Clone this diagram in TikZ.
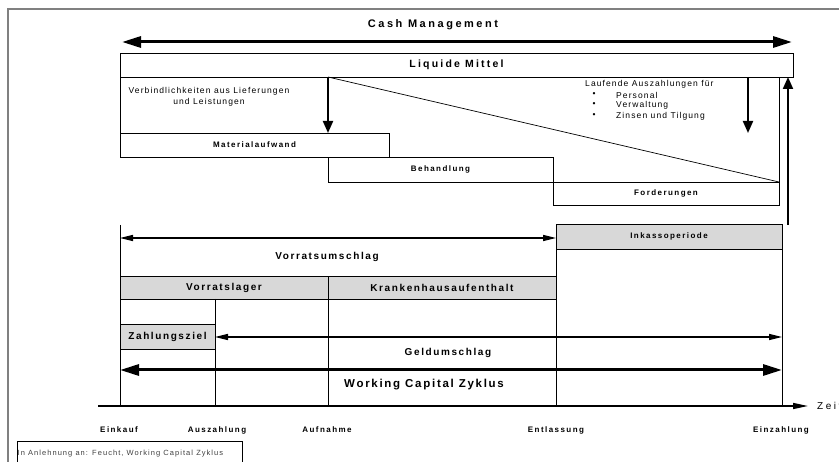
\documentclass[tikz,border=0pt]{standalone}
\usepackage{fontspec}
\setmainfont{Liberation Sans}
\usetikzlibrary{arrows.meta}
\newcommand{\fsz}[3]{\fontsize{#1}{#2}\selectfont\addfontfeature{LetterSpace=#3}}
\definecolor{shadegray}{HTML}{D8D8D8}
\definecolor{framegray}{HTML}{808080}
\begin{document}
\begin{tikzpicture}[x=1pt,y=-1pt,
  box/.style={draw, line width=0.9pt, inner sep=0pt, outer sep=0pt, align=center},
  shadebox/.style={box, fill=shadegray},
  ttl/.style={font=\bfseries\fsz{11}{13}{23}},
  midt/.style={font=\bfseries\fsz{10.5}{12}{21}},
  wct/.style={font=\bfseries\fsz{11.5}{13}{15}},
  boldm/.style={font=\bfseries\fsz{10}{11}{16}},
  bolds/.style={font=\bfseries\fsz{8}{9}{18}},
  regs/.style={font=\fsz{8.5}{10.5}{13}, inner sep=0pt},
  thin/.style={line width=0.9pt},
  bigarrow/.style={line width=3pt, {Triangle[length=19pt,width=11pt]}-{Triangle[length=19pt,width=11pt]}},
  medarrow/.style={line width=1.3pt, {Triangle[length=13pt,width=6pt]}-{Triangle[length=13pt,width=6pt]}},
  varrow/.style={line width=2pt, -{Triangle[length=12pt,width=10pt]}},
  axisarrow/.style={line width=1.5pt, -{Triangle[length=15pt,width=6pt]}}
]
\useasboundingbox (0,0) rectangle (839,462);
% outer frame
\draw[framegray, line width=1.5pt] (8,480) -- (8,9) -- (850,9);

% coordinates
\coordinate (cmL) at (122,42);
\coordinate (cmR) at (792,42);
\coordinate (tA) at (328,77);
\coordinate (tB) at (779,77);
\coordinate (tL) at (120,77);
\coordinate (dg) at (779,182);
\coordinate (d2a) at (748,77);
\coordinate (d2b) at (748,133);
\coordinate (upA) at (788,225);
\coordinate (upB) at (788,77);
\coordinate (vuL) at (120,238);
\coordinate (vuR) at (556,238);
\coordinate (guL) at (215,337);
\coordinate (guR) at (782,337);
\coordinate (wcL) at (120,370);
\coordinate (wcR) at (782,370);
\coordinate (axL) at (98,406);
\coordinate (axR) at (808,406);
\coordinate (l120t) at (120,225);
\coordinate (a120) at (120,406);
\coordinate (a215) at (215,406);
\coordinate (a328) at (328,406);
\coordinate (a556) at (556,406);
\coordinate (a782) at (782,406);

% title
\node[ttl] (cash) at (433,25) {Cash Management};
\draw[bigarrow] (cmL) -- (cmR);

% top boxes
\node[box, minimum width=673pt, minimum height=24pt, midt] (liq) at (456.5,65) {Liquide Mittel};
\node[box, minimum width=269pt, minimum height=24pt, bolds] (mat) at (254.5,145) {Materialaufwand};
\node[box, minimum width=225pt, minimum height=25pt, bolds] (beh) at (440.5,169.5) {Behandlung};
\node[box, minimum width=226pt, minimum height=23pt, bolds] (ford) at (666,193.5) {Forderungen};

\draw[thin] (tL) -- (mat.north west);
\draw[thin] (tB) -- (ford.north east);
\draw[line width=0.7pt] (tA) -- (dg);
\draw[varrow] (tA) -- (mat.north -| tA);
\draw[varrow] (d2a) -- (d2b);
\draw[varrow] (upA) -- (upB);

% texts in the top area
\node[regs, align=center] (verb) at (209,97) {Verbindlichkeiten aus Lieferungen\\und Leistungen};
\node[regs, anchor=west] (lauf) at (585,84) {Laufende Auszahlungen für};
\node[regs] (b1) at (594,95) {•};
\node[regs] (b2) at (594,105) {•};
\node[regs] (b3) at (594,116) {•};
\node[regs, anchor=west] (p1) at (616,95) {Personal};
\node[regs, anchor=west] (p2) at (616,105) {Verwaltung};
\node[regs, anchor=west] (p3) at (616,116) {Zinsen und Tilgung};

% lower part
\node[shadebox, minimum width=226pt, minimum height=25pt, bolds] (ink) at (669,236.5) {Inkassoperiode};
\node[shadebox, minimum width=208pt, minimum height=23pt, boldm] (vl) at (224,287.5) {Vorratslager};
\node[shadebox, minimum width=228pt, minimum height=23pt, boldm] (kh) at (442,287.5) {Krankenhausaufenthalt};
\node[shadebox, minimum width=95pt, minimum height=25pt, boldm] (zz) at (167.5,336.5) {Zahlungsziel};

\draw[thin] (l120t) -- (a120);
\draw[thin] (zz.north east |- vl.south) -- (a215);
\draw[thin] (vl.south east) -- (a328);
\draw[thin] (ink.south west) -- (a556);
\draw[thin] (ink.south east) -- (a782);

\draw[medarrow] (vuL) -- (vuR);
\node[boldm] (vu) at (327,257) {Vorratsumschlag};
\draw[medarrow] (guL) -- (guR);
\node[boldm] (gu) at (448,353) {Geldumschlag};
\draw[bigarrow] (wcL) -- (wcR);
\node[wct] (wc) at (424,385) {Working Capital Zyklus};

% time axis
\draw[axisarrow] (axL) -- (axR);
\node[font=\fsz{10}{12}{25}, anchor=west, inner sep=0pt] (zeit) at (817,406) {Zeit};
\node[bolds] (e1) at (119,430) {Einkauf};
\node[bolds] (e2) at (217,430) {Auszahlung};
\node[bolds] (e3) at (327,430) {Aufnahme};
\node[bolds] (e4) at (556,430) {Entlassung};
\node[bolds] (e5) at (781,430) {Einzahlung};

% source
\draw[line width=0.8pt] (17,475) -- (17,441) -- (242,441) -- (242,475);
\node[font=\fsz{7.5}{8}{14}, text=black!75, anchor=west, inner sep=0.5pt] (src) at (17,454) {In Anlehnung an: Feucht, Working Capital Zyklus};
\end{tikzpicture}
\end{document}
